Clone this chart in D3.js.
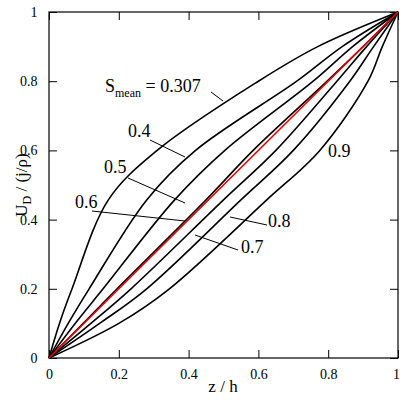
<!DOCTYPE html>
<html><head><meta charset="utf-8">
<script src="https://cdn.jsdelivr.net/npm/d3@7"></script>
<style>body{margin:0;background:#fff}</style>
</head><body><div id="chart"></div>
<script>
// Smean values and the z where each curve crosses the U levels below
const sMean = ["0.307", "0.4", "0.5", "0.6", "0.7", "0.8", "0.9"];
const uLevels = [0, 0.1, 0.2, 0.457, 0.6, 0.8, 0.9, 1];
const zCross = [
  [0, 0.03, 0.066, 0.17, 0.31, 0.6, 0.77, 1],
  [0, 0.055, 0.115, 0.28, 0.42, 0.71, 0.84, 1],
  [0, 0.075, 0.155, 0.36, 0.504, 0.757, 0.87, 1],
  [0, 0.098, 0.195, 0.45, 0.585, 0.797, 0.9, 1],
  [0, 0.12, 0.235, 0.5, 0.65, 0.825, 0.91, 1],
  [0, 0.145, 0.28, 0.55, 0.7, 0.862, 0.93, 1],
  [0, 0.2, 0.345, 0.624, 0.776, 0.914, 0.955, 1]
];
const tickVals = [0, 0.2, 0.4, 0.6, 0.8, 1];
const tickLabels = ["0", "0.2", "0.4", "0.6", "0.8", "1"];

const width = 400, height = 400;
const svg = d3.select("#chart").append("svg").attr("width", width).attr("height", height);
const x = d3.scaleLinear().domain([0, 1]).range([49, 398]);
const y = d3.scaleLinear().domain([0, 1]).range([358, 12]);
const font = "'Liberation Serif', 'DejaVu Serif', serif";

// ticks on all four sides, pointing inward
const minor = d3.range(0, 1.001, 0.1);
const fmt = d => tickLabels[tickVals.indexOf(d)] ?? "";
function axes(axisFn, scale, transform, major) {
  const g = svg.append("g").attr("transform", transform);
  g.call(axisFn(scale).tickValues(minor).tickSize(-4).tickFormat(""));
  g.call(axisFn(scale).tickValues(tickVals).tickSize(-8).tickFormat(major ? fmt : ""))
   .call(s => s.selectAll("text").style("font-family", font).attr("font-size", 14).attr("fill", "#000"));
  g.selectAll(".domain").remove();
  g.selectAll("line").attr("stroke", "#000");
  return g;
}
const bx = axes(d3.axisBottom, x, `translate(0,${y(0)})`, true);
bx.selectAll("text").attr("dy", "1.3em");
bx.selectAll("text").filter(d => d === 1).attr("dx", -2);
axes(d3.axisTop, x, `translate(0,${y(1)})`, false);
const ly = axes(d3.axisLeft, y, `translate(${x(0)},0)`, true);
ly.selectAll("text").attr("dx", "-0.6em");
axes(d3.axisRight, y, `translate(${x(1)},0)`, false);

svg.append("rect").attr("x", x(0)).attr("y", y(1)).attr("width", x(1) - x(0)).attr("height", y(0) - y(1))
  .attr("fill", "none").attr("stroke", "#000").attr("stroke-width", 1.2);

const line = d3.line().x(d => x(d[0])).y(d => y(d[1])).curve(d3.curveCatmullRom.alpha(0.5));
zCross.forEach(zs => {
  svg.append("path").datum(zs.map((z, i) => [z, uLevels[i]])).attr("d", line)
    .attr("fill", "none").attr("stroke", "#000").attr("stroke-width", 1.6);
});
svg.append("path").datum([[0, 0], [1, 1]]).attr("d", line)
  .attr("fill", "none").attr("stroke", "#e00").attr("stroke-width", 1.6);

// curve labels with leader lines
const labels = [
  {t: "0.4", x: 128, y: 137, l: [150, 140, 185, 157]},
  {t: "0.5", x: 104, y: 173, l: [128, 178, 185, 203]},
  {t: "0.6", x: 75, y: 208, l: [92, 211, 185, 221]},
  {t: "0.8", x: 268, y: 227, l: [230, 217, 267, 225]},
  {t: "0.7", x: 241, y: 253, l: [195, 235, 238, 250]},
  {t: "0.9", x: 328, y: 157, l: null}
];
labels.forEach(d => {
  svg.append("text").attr("x", d.x).attr("y", d.y).text(sMean[sMean.indexOf(d.t)])
    .style("font-family", font).attr("font-size", 18);
  if (d.l) svg.append("line").attr("x1", d.l[0]).attr("y1", d.l[1]).attr("x2", d.l[2]).attr("y2", d.l[3])
    .attr("stroke", "#000");
});
const st = svg.append("text").attr("x", 105).attr("y", 92).style("font-family", font).attr("font-size", 18);
st.append("tspan").text("S");
st.append("tspan").text("mean").attr("font-size", 12).attr("dy", 5);
st.append("tspan").text(" = " + sMean[0]).attr("dy", -5);
svg.append("line").attr("x1", 211).attr("y1", 92).attr("x2", 223).attr("y2", 101).attr("stroke", "#000");

svg.append("text").attr("x", 223).attr("y", 392).attr("text-anchor", "middle")
  .style("font-family", font).attr("font-size", 17).text("z / h");
const yt = svg.append("text").attr("transform", "translate(27,185) rotate(-90)").attr("text-anchor", "middle")
  .style("font-family", font).attr("font-size", 17);
yt.append("tspan").text("U");
yt.append("tspan").text("D").attr("font-size", 12).attr("dy", 4);
yt.append("tspan").text(" / (j/ρ)").attr("dy", -4);
</script></body></html>
